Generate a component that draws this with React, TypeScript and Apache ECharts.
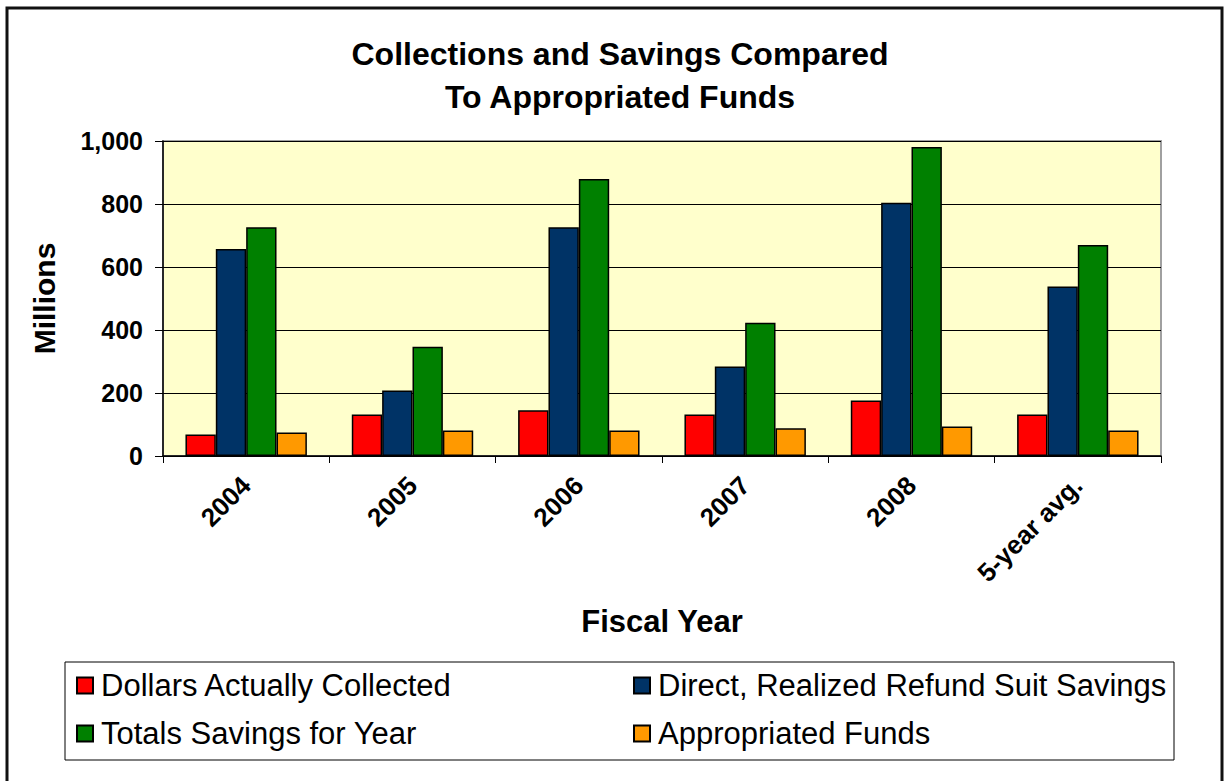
import React, { useEffect, useRef } from "react";
import * as echarts from "echarts";

const categories = ["2004", "2005", "2006", "2007", "2008", "5-year avg."];
const collected = [68, 132, 145, 132, 176, 132];
const directSavings = [657, 208, 726, 284, 804, 538];
const totalSavings = [726, 347, 879, 423, 981, 670];
const appropriated = [75, 81, 81, 88, 94, 81];
const seriesNames = [
  "Dollars Actually Collected",
  "Direct, Realized Refund Suit Savings",
  "Totals Savings for Year",
  "Appropriated Funds",
];
const seriesColors = ["#FF0000", "#003366", "#008000", "#FF9900"];
const yTicks = [0, 200, 400, 600, 800, 1000];

const FONT = "'Liberation Sans', Arial, Helvetica, sans-serif";

export default function App() {
  const ref = useRef<HTMLDivElement>(null);
  useEffect(() => {
    if (!ref.current) return;
    const chart = echarts.init(ref.current, null, { renderer: "svg" });
    const values = [collected, directSavings, totalSavings, appropriated];
    const legendPos = [
      { left: 76, top: 670 },
      { left: 633, top: 670 },
      { left: 76, top: 718 },
      { left: 633, top: 718 },
    ];
    chart.setOption({
      animation: false,
      backgroundColor: "#FFFFFF",
      title: {
        text: "Collections and Savings Compared\nTo Appropriated Funds",
        left: 615,
        top: 27,
        textAlign: "center",
        textStyle: {
          fontFamily: FONT,
          fontWeight: "bold",
          fontSize: 32,
          lineHeight: 43,
          color: "#000",
        },
      },
      legend: seriesNames.map((name, i) => ({
        data: [{ name, icon: "rect" }],
        left: legendPos[i].left,
        top: legendPos[i].top,
        padding: 0,
        itemWidth: 16,
        itemHeight: 16,
        itemGap: 0,
        selectedMode: false,
        textStyle: { fontFamily: FONT, fontSize: 31, color: "#000", padding: [0, 0, 0, 3] },
      })),
      grid: {
        left: 163,
        right: 63,
        top: 141,
        bottom: 325,
        show: true,
        backgroundColor: "#FFFFCC",
        borderColor: "#A0A0A0",
        borderWidth: 2,
      },
      xAxis: {
        type: "category",
        data: categories,
        name: "Fiscal Year",
        nameLocation: "middle",
        nameGap: 150,
        nameTextStyle: { fontFamily: FONT, fontWeight: "bold", fontSize: 31, color: "#000" },
        axisLine: { show: true, lineStyle: { color: "#000", width: 1.5 } },
        axisTick: { show: true, length: 7, lineStyle: { color: "#000" } },
        axisLabel: {
          interval: 0,
          rotate: 45,
          margin: 25,
          fontFamily: FONT,
          fontWeight: "bold",
          fontSize: 26,
          color: "#000",
        },
      },
      yAxis: {
        type: "value",
        min: 0,
        max: 1000,
        interval: 200,
        name: "Millions",
        nameLocation: "middle",
        nameGap: 104,
        nameRotate: 90,
        nameTextStyle: { fontFamily: FONT, fontWeight: "bold", fontSize: 30, color: "#000" },
        axisLine: { show: true, lineStyle: { color: "#000", width: 1.5 } },
        axisTick: { show: true, length: 8, lineStyle: { color: "#000" } },
        axisLabel: {
          margin: 20,
          fontFamily: FONT,
          fontWeight: "bold",
          fontSize: 25,
          color: "#000",
          formatter: (v: number) => (yTicks.includes(v) ? v.toLocaleString("en-US") : ""),
        },
        splitLine: { show: true, lineStyle: { color: "#000", width: 1 } },
      },
      series: seriesNames.map((name, i) => ({
        name,
        type: "bar",
        data: values[i],
        barGap: "0%",
        barCategoryGap: "27%",
        itemStyle: { color: seriesColors[i], borderColor: "#000", borderWidth: 1.5 },
      })),
      graphic: [
        {
          type: "rect",
          shape: { x: 7, y: 8, width: 1215, height: 800 },
          style: { fill: "none", stroke: "#111", lineWidth: 3 },
          silent: true,
        },
        {
          type: "rect",
          shape: { x: 65, y: 662, width: 1109, height: 98 },
          style: { fill: "none", stroke: "#000", lineWidth: 1 },
          silent: true,
        },
      ],
    });
    return () => chart.dispose();
  }, []);
  return (
    <div
      ref={ref}
      style={{ position: "fixed", left: 0, top: 0, width: 1224, height: 781 }}
    />
  );
}
